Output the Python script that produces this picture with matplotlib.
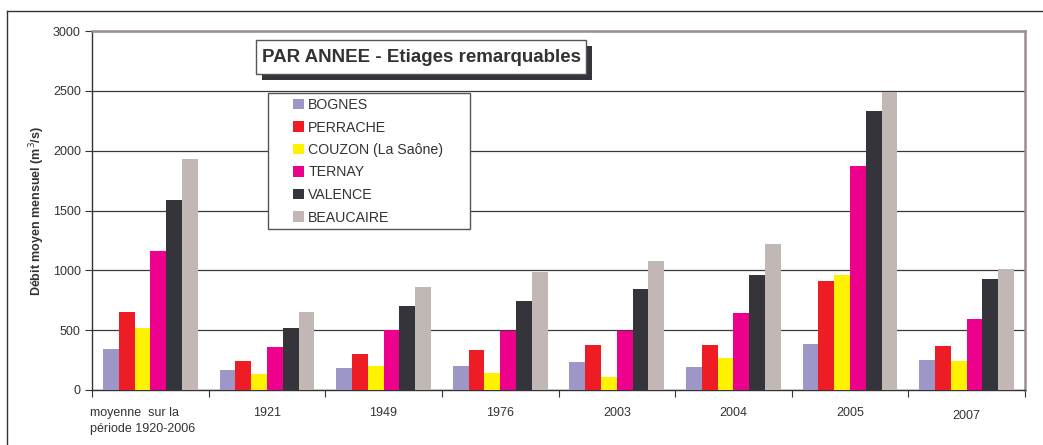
import numpy as np
import matplotlib.pyplot as plt
from matplotlib.lines import Line2D
from matplotlib.patches import Rectangle

categories = ["moyenne  sur la\npériode 1920-2006", "1921", "1949", "1976",
              "2003", "2004", "2005", "2007"]
stations = ["BOGNES", "PERRACHE", "COUZON (La Saône)", "TERNAY", "VALENCE", "BEAUCAIRE"]
colors = ["#9d97c8", "#ee1c25", "#fff200", "#ec008c", "#35343a", "#c1b7b4"]

bognes = [340, 170, 185, 200, 235, 195, 385, 250]
perrache = [650, 240, 305, 335, 380, 380, 910, 370]
couzon = [520, 130, 200, 145, 105, 265, 960, 245]
ternay = [1160, 360, 500, 490, 490, 640, 1870, 595]
valence = [1590, 520, 700, 740, 840, 960, 2330, 930]
beaucaire = [1930, 650, 860, 990, 1080, 1220, 2490, 1015]
series = [bognes, perrache, couzon, ternay, valence, beaucaire]

plt.rcParams['font.family'] = ['Liberation Sans', 'DejaVu Sans']

W, H = 1043, 445
fig = plt.figure(figsize=(W / 100, H / 100), dpi=100)
ax = fig.add_axes([92 / W, 1 - 390 / H, 933 / W, 359 / H])

x = np.arange(len(categories))
w = 0.1355
for i, (vals, col, name) in enumerate(zip(series, colors, stations)):
    ax.bar(x + (i - 2.5) * w, vals, w, color=col, label=name, zorder=3)

ax.set_xlim(-0.5, len(categories) - 0.5)
ax.set_ylim(0, 3000)
ax.set_yticks(np.arange(0, 3001, 500))
ax.yaxis.grid(True, color="#3a3a3a", lw=0.9, zorder=0)
ax.set_axisbelow(True)
ax.tick_params(axis='y', direction='out', length=5, color="#333333",
               labelsize=9, labelcolor="#333333", pad=3)

# category boundaries as ticks, labels as text
ax.set_xticks(np.arange(-0.5, len(categories) + 0.5, 1.0))
ax.set_xticklabels([])
ax.tick_params(axis='x', direction='out', length=5, color="#333333")
trans = ax.get_xaxis_transform()
for i, lab in enumerate(categories):
    if i == 0:
        ax.text(-0.52, -0.048, lab, transform=trans, ha='left', va='top',
                fontsize=9, color="#333333", linespacing=1.45)
    else:
        dy = -0.056 if lab == "2007" else -0.048
        ax.text(i, dy, lab, transform=trans, ha='center', va='top',
                fontsize=9, color="#333333")

for s in ['left', 'bottom']:
    ax.spines[s].set_color("#333333")
    ax.spines[s].set_linewidth(1.0)
for s in ['top', 'right']:
    ax.spines[s].set_color("#9a8f8c")
    ax.spines[s].set_linewidth(1.8)

ax.set_ylabel("Débit moyen mensuel (m$^3$/s)", fontsize=9, fontweight='bold',
              color="#333333", labelpad=4)

# legend: frameless entries inside a hand-drawn box
box = Rectangle((268 / W, 1 - 229 / H), 202 / W, 136 / H,
                transform=fig.transFigure, facecolor="white",
                edgecolor="#555555", lw=1.0, zorder=6, clip_on=False)
ax.add_artist(box)
leg = ax.legend(loc='upper left', bbox_to_anchor=(293 / W, 1 - 98 / H),
                bbox_transform=fig.transFigure, frameon=False,
                fontsize=10.2, handlelength=0.78, handleheight=0.78,
                handletextpad=0.3, labelspacing=0.6, borderpad=0,
                borderaxespad=0)
leg.set_zorder(8)
for t in leg.get_texts():
    t.set_color("#333333")

# title box with shadow
fig.patches.append(Rectangle((262 / W, 1 - 80 / H), 330 / W, 34 / H,
                             transform=fig.transFigure, facecolor="#35343a",
                             edgecolor="none", zorder=5))
fig.patches.append(Rectangle((256 / W, 1 - 74 / H), 330 / W, 34 / H,
                             transform=fig.transFigure, facecolor="white",
                             edgecolor="#555555", lw=1.0, zorder=6))
fig.text(421 / W, 1 - 57.5 / H, "PAR ANNEE - Etiages remarquables",
         ha='center', va='center', fontsize=13.5, fontweight='bold',
         color="#333333", zorder=7)

# outer frame
fig.add_artist(Line2D([7 / W, 1.0], [1 - 11 / H, 1 - 11 / H],
                      color="#333333", lw=1.0))
fig.add_artist(Line2D([7 / W, 7 / W], [0, 1 - 11 / H],
                      color="#333333", lw=1.0))

fig.savefig("out.png", dpi=100)
